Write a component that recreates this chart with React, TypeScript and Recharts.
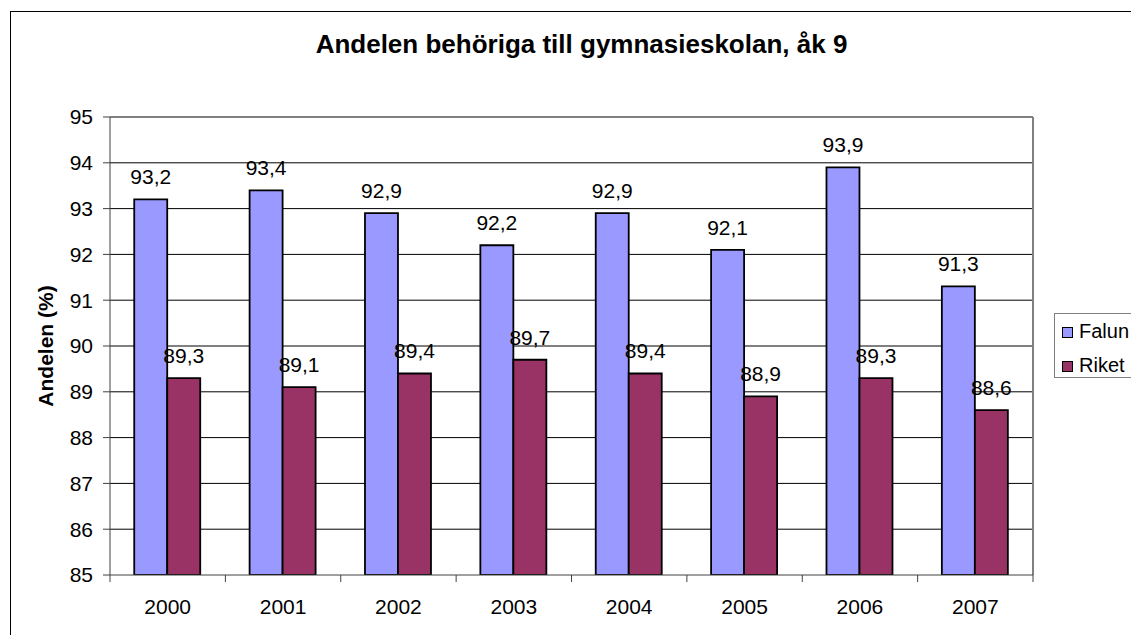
import { Bar, BarChart, CartesianGrid, LabelList, Legend, XAxis, YAxis } from "recharts";

const YEARS = ["2000", "2001", "2002", "2003", "2004", "2005", "2006", "2007"];
const FALUN = [93.2, 93.4, 92.9, 92.2, 92.9, 92.1, 93.9, 91.3];
const RIKET = [89.3, 89.1, 89.4, 89.7, 89.4, 88.9, 89.3, 88.6];
const Y_TICKS = [85, 86, 87, 88, 89, 90, 91, 92, 93, 94, 95];
const SERIES = [
  { key: "falun", name: "Falun", color: "#9999FF" },
  { key: "riket", name: "Riket", color: "#993366" },
];

const data = YEARS.map((year, i) => ({ year, falun: FALUN[i], riket: RIKET[i] }));

const PAGE_W = 1131;
const PAGE_H = 635;
const PAD = 8;
const W = PAGE_W - PAD;
const H = PAGE_H - PAD;
const MARGIN = { top: 109, right: 98, bottom: 20, left: 0 };
const Y_AXIS_W = 102;
const X_AXIS_H = 40;
const PLOT_W = W - MARGIN.left - MARGIN.right - Y_AXIS_W;
const FONT = "'Liberation Sans', Arial, sans-serif";
const FS = 21;
const AXIS_GREY = "#404040";

const fmt = (v: any) => String(v).replace(".", ",");

function YearTick(props: any) {
  const { x, y, index, payload } = props;
  const band = PLOT_W / YEARS.length;
  const top = y - 24;
  return (
    <g>
      <line x1={x - band / 2} x2={x - band / 2} y1={top} y2={top + 7} stroke={AXIS_GREY} />
      {index === YEARS.length - 1 && (
        <line x1={x + band / 2} x2={x + band / 2} y1={top} y2={top + 7} stroke={AXIS_GREY} />
      )}
      <text x={x} y={y} dy="0.71em" textAnchor="middle" fontSize={FS} fill="#000" fontFamily={FONT}>
        {payload.value}
      </text>
    </g>
  );
}

function LegendBox() {
  return (
    <div
      style={{
        border: "1px solid #808080",
        background: "#fff",
        width: 100,
        height: 65,
        boxSizing: "border-box",
        fontFamily: FONT,
        fontSize: 20,
        color: "#000",
        position: "relative",
      }}
    >
      {SERIES.map((s, i) => (
        <div key={s.key} style={{ position: "absolute", left: 7, top: 5 + i * 34, display: "flex", alignItems: "center", lineHeight: "24px" }}>
          <span
            style={{
              display: "inline-block",
              width: 9,
              height: 9,
              background: s.color,
              border: "1px solid #000",
              marginRight: 6,
              marginTop: 3,
            }}
          />
          <span>{s.name}</span>
        </div>
      ))}
    </div>
  );
}

export default function App() {
  return (
    <div style={{ position: "relative", width: PAGE_W, height: PAGE_H, overflow: "hidden", background: "#fff" }}>
      {/* the chart runs past the window edge like the original, so no margin and no scrollbars */}
      <style>{"html, body { margin: 0; overflow: hidden; }"}</style>
      <div style={{ position: "absolute", left: PAD, top: PAD, width: W, height: H }}>
        <div
          style={{
            position: "absolute",
            left: 2,
            top: 3,
            width: W + 50,
            height: H + 50,
            border: "1px solid #000",
            boxSizing: "border-box",
          }}
        />
        <div
          style={{
            position: "absolute",
            left: 0,
            width: W + 24,
            top: 24,
            textAlign: "center",
            fontFamily: FONT,
            fontWeight: "bold",
            fontSize: 26,
            lineHeight: "24px",
            color: "#000",
          }}
        >
          Andelen behöriga till gymnasieskolan, åk 9
        </div>
        <div style={{ position: "absolute", left: 0, top: 0 }}>
          <BarChart
            width={W}
            height={H}
            data={data}
            margin={MARGIN}
            barCategoryGap="21%"
            barGap={0}
            style={{ fontFamily: FONT }}
          >
            <CartesianGrid
              vertical={false}
              stroke="#000"
              horizontalValues={Y_TICKS.slice(1, -1)}
            />
            {/* grey plot frame on top and right, like the original */}
            <CartesianGrid
              stroke="#808080"
              strokeWidth={2}
              horizontalCoordinatesGenerator={({ offset }: any) => [offset.top]}
              verticalCoordinatesGenerator={({ offset }: any) => [offset.left + offset.width]}
            />
            <XAxis
              dataKey="year"
              height={X_AXIS_H}
              tickLine={false}
              tickSize={7}
              tickMargin={17}
              interval={0}
              axisLine={{ stroke: AXIS_GREY }}
              tick={<YearTick />}
            />
            <YAxis
              width={Y_AXIS_W}
              domain={[85, 95]}
              ticks={Y_TICKS}
              interval={0}
              tickSize={7}
              tickMargin={10}
              allowDataOverflow
              axisLine={{ stroke: AXIS_GREY }}
              tickLine={{ stroke: AXIS_GREY }}
              tick={{ fontSize: FS, fill: "#000", fontFamily: FONT }}
              label={{
                value: "Andelen (%)",
                angle: -90,
                position: "insideLeft",
                offset: 38,
                style: { fontSize: FS, fontWeight: "bold", fill: "#000", fontFamily: FONT, textAnchor: "middle" },
              }}
            />
            <Legend
              layout="horizontal"
              verticalAlign="middle"
              align="center"
              wrapperStyle={{ left: 1046, top: 305, width: 100 }}
              content={() => <LegendBox />}
            />
            {SERIES.map((s) => (
              <Bar
                key={s.key}
                dataKey={s.key}
                name={s.name}
                fill={s.color}
                stroke="#000"
                strokeWidth={1.8}
                isAnimationActive={false}
              >
                <LabelList
                  dataKey={s.key}
                  position="top"
                  offset={15}
                  formatter={fmt}
                  style={{ fontSize: FS, fill: "#000", fontFamily: FONT }}
                />
              </Bar>
            ))}
          </BarChart>
        </div>
      </div>
    </div>
  );
}
